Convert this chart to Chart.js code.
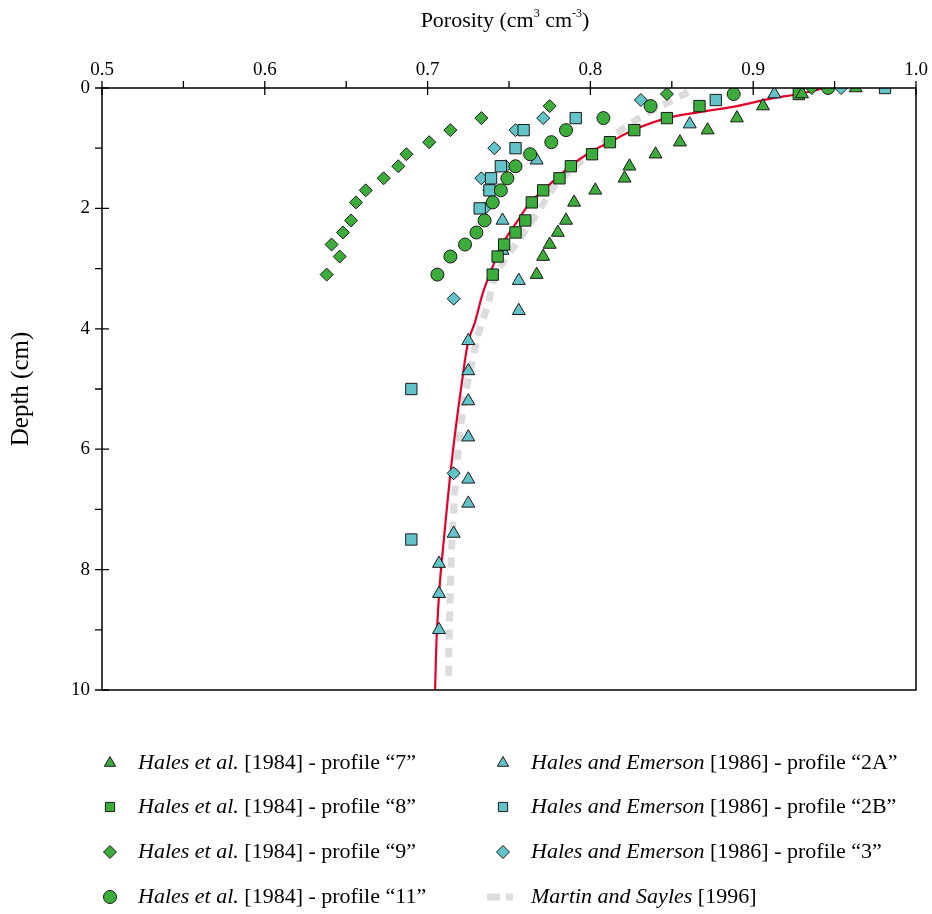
<!DOCTYPE html>
<html lang="en">
<head>
<meta charset="UTF-8">
<title>Porosity profiles</title>
<script src="https://cdn.jsdelivr.net/npm/chart.js"></script>
<style>
  html, body { margin: 0; padding: 0; background: #fff; }
  #wrap { width: 932px; height: 914px; }
</style>
</head>
<body>
<div id="wrap"><canvas id="chart" width="932" height="914"></canvas></div>
<script>
  // tick values
  const porosityTicks = [0.5, 0.6, 0.7, 0.8, 0.9, 1.0];
  const porosityMinor = [0.55, 0.65, 0.75, 0.85, 0.95];
  const depthTicks = [0, 2, 4, 6, 8, 10];
  const depthMinor = [1, 3, 5, 7, 9];

  // Hales et al. [1984]
  const h7Depth = [0, 0.1, 0.3, 0.5, 0.7, 0.9, 1.1, 1.3, 1.5, 1.7, 1.9, 2.2, 2.4, 2.6, 2.8, 3.1];
  const h7Por   = [0.963, 0.930, 0.906, 0.890, 0.872, 0.855, 0.840, 0.824, 0.821, 0.803, 0.790, 0.785, 0.780, 0.775, 0.771, 0.767];
  const h8Depth = [0.1, 0.3, 0.5, 0.7, 0.9, 1.1, 1.3, 1.5, 1.7, 1.9, 2.2, 2.4, 2.6, 2.8, 3.1];
  const h8Por   = [0.928, 0.867, 0.847, 0.827, 0.812, 0.801, 0.788, 0.781, 0.771, 0.764, 0.760, 0.754, 0.747, 0.743, 0.740];
  const h9Depth = [0, 0.1, 0.3, 0.5, 0.7, 0.9, 1.1, 1.3, 1.5, 1.7, 1.9, 2.2, 2.4, 2.6, 2.8, 3.1];
  const h9Por   = [0.936, 0.847, 0.775, 0.733, 0.714, 0.701, 0.687, 0.682, 0.673, 0.662, 0.656, 0.653, 0.648, 0.641, 0.646, 0.638];
  const h11Depth = [0, 0.1, 0.3, 0.5, 0.7, 0.9, 1.1, 1.3, 1.5, 1.7, 1.9, 2.2, 2.4, 2.6, 2.8, 3.1];
  const h11Por   = [0.946, 0.888, 0.837, 0.808, 0.785, 0.776, 0.763, 0.754, 0.749, 0.745, 0.740, 0.735, 0.730, 0.723, 0.714, 0.706];

  // Hales and Emerson [1986]
  const e2aDepth = [0.1, 0.6, 1.2, 2.2, 2.7, 3.2, 3.7, 4.2, 4.7, 5.2, 5.8, 6.5, 6.9, 7.4, 7.9, 8.4, 9.0];
  const e2aPor   = [0.913, 0.861, 0.767, 0.746, 0.746, 0.756, 0.756, 0.725, 0.725, 0.725, 0.725, 0.725, 0.725, 0.716, 0.707, 0.707, 0.707];
  const e2bDepth = [0, 0.2, 0.5, 0.7, 1.0, 1.3, 1.5, 1.7, 2.0, 5.0, 7.5];
  const e2bPor   = [0.981, 0.877, 0.791, 0.759, 0.754, 0.745, 0.739, 0.738, 0.732, 0.690, 0.690];
  const e3Depth = [0, 0.2, 0.5, 0.7, 1.0, 1.3, 1.5, 1.7, 2.0, 3.5, 6.4];
  const e3Por   = [0.954, 0.831, 0.771, 0.754, 0.741, 0.748, 0.733, 0.738, 0.735, 0.716, 0.716];

  // model curve (red) and Martin and Sayles [1996] (grey dashed)
  const modelDepth = [0, 0.1, 0.18, 0.3, 0.4, 0.5, 0.7, 0.9, 1.05, 1.3, 1.7, 1.9, 2.2, 2.5, 2.9, 3.4, 3.9, 4.2, 4.9, 5.6, 6.4, 7.3, 8.2, 9.1, 10];
  const modelPor   = [0.944, 0.928, 0.910, 0.890, 0.867, 0.847, 0.826, 0.812, 0.801, 0.7875, 0.771, 0.763, 0.7555, 0.748, 0.741, 0.734, 0.729, 0.725, 0.721, 0.7175, 0.714, 0.7107, 0.7076, 0.7056, 0.7046];
  const msDepth = [0.07, 0.5, 1.0, 1.6, 2.1, 2.6, 3.1, 3.6, 4.1, 4.6, 5.1, 5.7, 6.6, 7.5, 8.3, 9.4, 9.8];
  const msPor   = [0.860, 0.830, 0.804, 0.779, 0.767, 0.754, 0.742, 0.737, 0.731, 0.727, 0.723, 0.720, 0.717, 0.715, 0.714, 0.713, 0.713];

  const GREEN = '#3cad3a';
  const CYAN = '#62c3c9';
  const EDGE = '#1a1a1a';
  const SERIF = '"Liberation Serif", "DejaVu Serif", serif';

  const pts = (d, p) => d.map((v, i) => ({ x: p[i], y: v }));

  function markers(label, d, p, color, style, r) {
    return {
      label: label,
      data: pts(d, p),
      pointStyle: style,
      pointRadius: r,
      pointHoverRadius: r,
      backgroundColor: color,
      borderColor: EDGE,
      borderWidth: 1,
      showLine: false,
      order: 0
    };
  }

  const datasets = [
    markers('7', h7Depth, h7Por, GREEN, 'triangle', 7.5),
    markers('8', h8Depth, h8Por, GREEN, 'rect', 8),
    markers('9', h9Depth, h9Por, GREEN, 'rectRot', 6.5),
    markers('11', h11Depth, h11Por, GREEN, 'circle', 6.5),
    markers('2A', e2aDepth, e2aPor, CYAN, 'triangle', 7.5),
    markers('2B', e2bDepth, e2bPor, CYAN, 'rect', 8),
    markers('3', e3Depth, e3Por, CYAN, 'rectRot', 6.5),
    {
      label: 'model',
      data: pts(modelDepth, modelPor),
      showLine: true,
      borderColor: '#e4002b',
      borderWidth: 2.2,
      pointRadius: 0,
      tension: 0.3,
      order: 1
    },
    {
      label: 'ms',
      data: pts(msDepth, msPor),
      showLine: true,
      borderColor: '#dcdcdc',
      borderWidth: 7,
      borderDash: [10, 8],
      pointRadius: 0,
      tension: 0.3,
      order: 2
    }
  ];

  const legendItems = [
    { col: 0, row: 0, color: GREEN, style: 'triangle', it: 'Hales et al.', rest: ' [1984] - profile \u201c7\u201d' },
    { col: 0, row: 1, color: GREEN, style: 'rect', it: 'Hales et al.', rest: ' [1984] - profile \u201c8\u201d' },
    { col: 0, row: 2, color: GREEN, style: 'rectRot', it: 'Hales et al.', rest: ' [1984] - profile \u201c9\u201d' },
    { col: 0, row: 3, color: GREEN, style: 'circle', it: 'Hales et al.', rest: ' [1984] - profile \u201c11\u201d' },
    { col: 1, row: 0, color: CYAN, style: 'triangle', it: 'Hales and Emerson', rest: ' [1986] - profile \u201c2A\u201d' },
    { col: 1, row: 1, color: CYAN, style: 'rect', it: 'Hales and Emerson', rest: ' [1986] - profile \u201c2B\u201d' },
    { col: 1, row: 2, color: CYAN, style: 'rectRot', it: 'Hales and Emerson', rest: ' [1986] - profile \u201c3\u201d' },
    { col: 1, row: 3, color: null, style: 'dash', it: 'Martin and Sayles', rest: ' [1996]' }
  ];

  const decor = {
    id: 'decor',
    afterDraw(chart) {
      const ctx = chart.ctx;
      const a = chart.chartArea;
      const xs = chart.scales.x, ys = chart.scales.y;
      ctx.save();
      ctx.strokeStyle = '#000';
      ctx.lineWidth = 1.5;
      ctx.strokeRect(a.left, a.top, a.right - a.left, a.bottom - a.top);
      ctx.lineWidth = 1.3;
      ctx.beginPath();
      porosityTicks.forEach(v => { const x = xs.getPixelForValue(v); ctx.moveTo(x, a.top - 7); ctx.lineTo(x, a.top + 7); });
      porosityMinor.forEach(v => { const x = xs.getPixelForValue(v); ctx.moveTo(x, a.top - 7); ctx.lineTo(x, a.top); });
      depthTicks.forEach(v => { const y = ys.getPixelForValue(v); ctx.moveTo(a.left - 7, y); ctx.lineTo(a.left + 7, y); });
      depthMinor.forEach(v => { const y = ys.getPixelForValue(v); ctx.moveTo(a.left - 7, y); ctx.lineTo(a.left, y); });
      ctx.stroke();

      // x axis title with superscripts
      ctx.fillStyle = '#000';
      ctx.textBaseline = 'alphabetic';
      const parts = [['Porosity (cm', 22, 0], ['3', 12, -10], [' cm', 22, 0], ['-3', 12, -10], [')', 22, 0]];
      let w = 0;
      parts.forEach(p => { ctx.font = p[1] + 'px ' + SERIF; w += ctx.measureText(p[0]).width; });
      let x = 505 - w / 2;
      parts.forEach(p => {
        ctx.font = p[1] + 'px ' + SERIF;
        ctx.fillText(p[0], x, 27 + p[2]);
        x += ctx.measureText(p[0]).width;
      });

      // legend
      const colX = [110, 503], rowY = [763, 807, 852, 897];
      legendItems.forEach(it => {
        const mx = colX[it.col], my = rowY[it.row];
        if (it.style === 'dash') {
          ctx.strokeStyle = '#dcdcdc';
          ctx.lineWidth = 7;
          ctx.setLineDash([13, 6]);
          ctx.beginPath();
          ctx.moveTo(mx - 16, my);
          ctx.lineTo(mx + 10, my);
          ctx.stroke();
          ctx.setLineDash([]);
        } else {
          ctx.fillStyle = it.color;
          ctx.strokeStyle = EDGE;
          ctx.lineWidth = 1;
          Chart.helpers.drawPoint(ctx, { pointStyle: it.style, radius: 6.5, rotation: 0, borderWidth: 1 }, mx, my);
        }
        ctx.fillStyle = '#000';
        ctx.textBaseline = 'middle';
        let tx = mx + 28;
        ctx.font = 'italic 22px ' + SERIF;
        ctx.fillText(it.it, tx, my);
        tx += ctx.measureText(it.it).width;
        ctx.font = '22px ' + SERIF;
        ctx.fillText(it.rest, tx, my);
      });
      ctx.restore();
    }
  };

  new Chart(document.getElementById('chart'), {
    type: 'scatter',
    data: { datasets: datasets },
    plugins: [decor],
    options: {
      responsive: false,
      animation: false,
      events: [],
      layout: { padding: { left: 0, top: 0, right: 16, bottom: 224 } },
      plugins: { legend: { display: false }, tooltip: { enabled: false } },
      scales: {
        x: {
          type: 'linear',
          position: 'top',
          min: 0.5,
          max: 1.0,
          afterFit: s => { s.height = 88; s.paddingLeft = 0; s.paddingRight = 0; },
          afterBuildTicks: s => { s.ticks = porosityTicks.map(v => ({ value: v })); },
          grid: { display: true, drawOnChartArea: false, drawTicks: false },
          border: { display: false },
          ticks: {
            padding: 7,
            color: '#000',
            font: { family: SERIF, size: 19 },
            callback: v => Number(v).toFixed(1)
          }
        },
        y: {
          type: 'linear',
          reverse: true,
          min: 0,
          max: 10,
          afterFit: s => { s.width = 102; s.paddingTop = 0; s.paddingBottom = 0; },
          afterBuildTicks: s => { s.ticks = depthTicks.map(v => ({ value: v })); },
          grid: { display: true, drawOnChartArea: false, drawTicks: false },
          border: { display: false },
          ticks: {
            padding: 12,
            color: '#000',
            font: { family: SERIF, size: 19 }
          },
          title: {
            display: true,
            text: 'Depth (cm)',
            color: '#000',
            font: { family: SERIF, size: 25 },
            padding: { top: 6, bottom: 0 }
          }
        }
      }
    }
  });
</script>
</body>
</html>
